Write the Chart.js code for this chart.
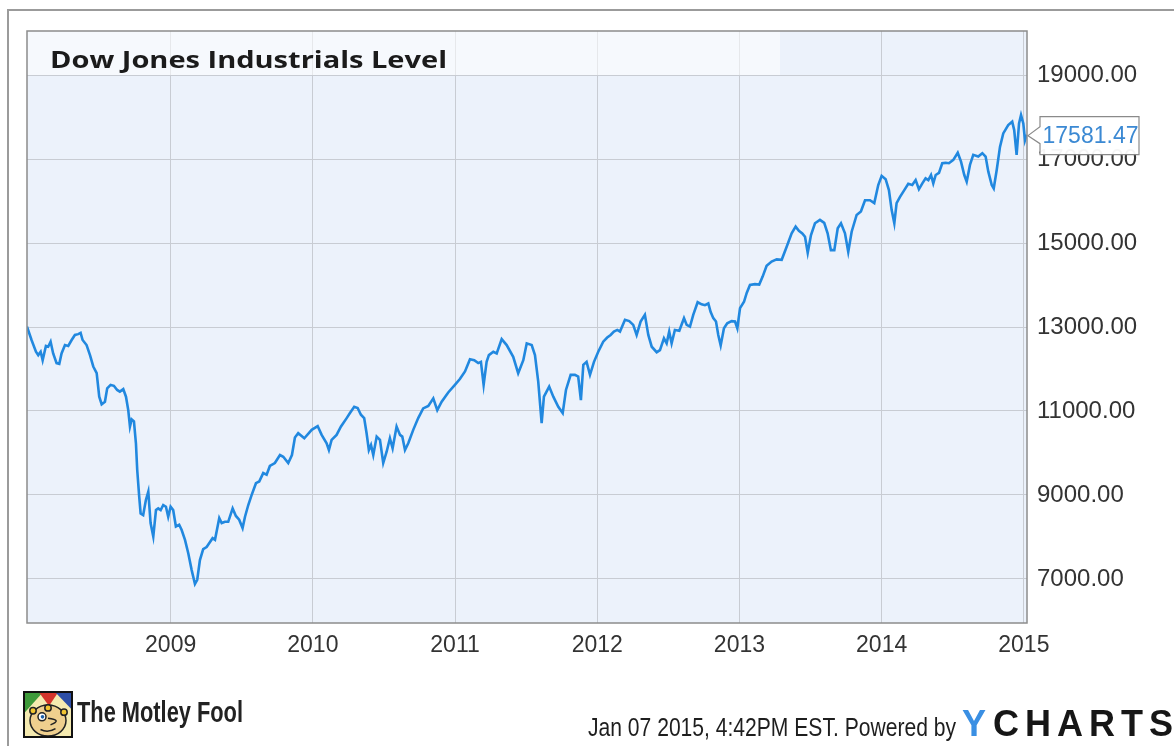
<!DOCTYPE html>
<html><head><meta charset="utf-8">
<script src="https://cdn.jsdelivr.net/npm/chart.js@4.4.1/dist/chart.umd.min.js"></script>
<style>html,body{margin:0;padding:0;background:#fff;}canvas{display:block;}</style>
</head><body>
<canvas id="c" width="1174" height="746"></canvas>
<script>
const chartTitle = "Dow Jones Industrials Level";
const yearTicks = [2009, 2010, 2011, 2012, 2013, 2014, 2015];
const valueTicks = [7000, 9000, 11000, 13000, 15000, 17000, 19000];
const lastValueLabel = "17581.47";
const footerStamp = "Jan 07 2015, 4:42PM EST. Powered by";
const brandName = "The Motley Fool";

const years = [
2007.99,2008.022,2008.053,2008.069,2008.086,2008.100,2008.123,2008.139,2008.156,2008.174,
2008.198,2008.217,2008.233,2008.257,2008.280,2008.304,2008.327,2008.350,2008.367,2008.381,
2008.409,2008.433,2008.456,2008.480,2008.498,2008.515,2008.538,2008.554,2008.578,2008.601,
2008.624,2008.643,2008.667,2008.686,2008.702,2008.714,2008.726,2008.742,2008.756,2008.765,
2008.779,2008.789,2008.807,2008.826,2008.843,2008.859,2008.878,2008.897,2008.913,2008.930,
2008.948,2008.967,2008.983,2009.000,2009.018,2009.037,2009.060,2009.077,2009.101,2009.124,
2009.148,2009.171,2009.187,2009.206,2009.229,2009.253,2009.271,2009.295,2009.312,2009.342,
2009.359,2009.382,2009.405,2009.436,2009.459,2009.482,2009.506,2009.523,2009.546,2009.570,
2009.600,2009.623,2009.651,2009.675,2009.698,2009.733,2009.769,2009.792,2009.827,2009.853,
2009.874,2009.897,2009.940,2009.992,2010.034,2010.062,2010.097,2010.113,2010.132,2010.167,
2010.198,2010.238,2010.261,2010.291,2010.315,2010.338,2010.361,2010.378,2010.394,2010.409,
2010.425,2010.449,2010.472,2010.495,2010.519,2010.542,2010.561,2010.589,2010.613,2010.629,
2010.648,2010.671,2010.706,2010.741,2010.776,2010.812,2010.847,2010.875,2010.906,2010.952,
2010.999,2011.034,2011.070,2011.105,2011.135,2011.163,2011.182,2011.201,2011.222,2011.238,
2011.269,2011.293,2011.328,2011.363,2011.409,2011.444,2011.480,2011.504,2011.539,2011.562,
2011.585,2011.609,2011.625,2011.662,2011.691,2011.726,2011.757,2011.780,2011.813,2011.843,
2011.866,2011.885,2011.902,2011.925,2011.949,2011.977,2012.007,2012.042,2012.070,2012.094,
2012.117,2012.141,2012.160,2012.195,2012.225,2012.253,2012.277,2012.305,2012.335,2012.359,
2012.383,2012.418,2012.441,2012.469,2012.488,2012.506,2012.523,2012.546,2012.577,2012.610,
2012.629,2012.652,2012.675,2012.706,2012.734,2012.757,2012.781,2012.797,2012.816,2012.835,
2012.851,2012.868,2012.891,2012.914,2012.945,2012.969,2012.985,2013.004,2013.032,2013.051,
2013.074,2013.109,2013.139,2013.163,2013.191,2013.226,2013.262,2013.297,2013.332,2013.367,
2013.395,2013.418,2013.442,2013.461,2013.480,2013.503,2013.531,2013.566,2013.596,2013.620,
2013.643,2013.667,2013.691,2013.714,2013.742,2013.765,2013.789,2013.824,2013.854,2013.883,
2013.918,2013.948,2013.976,2014.000,2014.028,2014.051,2014.070,2014.089,2014.105,2014.129,
2014.159,2014.187,2014.215,2014.239,2014.262,2014.286,2014.309,2014.328,2014.347,2014.363,
2014.380,2014.403,2014.426,2014.450,2014.473,2014.504,2014.535,2014.558,2014.581,2014.598,
2014.621,2014.644,2014.679,2014.708,2014.731,2014.750,2014.774,2014.788,2014.809,2014.832,
2014.855,2014.890,2014.918,2014.932,2014.949,2014.966,2014.980,2014.996,2015.008,2015.020
];
const values = [
13010,12690,12410,12330,12410,12210,12550,12530,12650,12370,
12140,12120,12370,12570,12550,12690,12810,12830,12860,12690,
12570,12330,12060,11900,11340,11160,11220,11540,11620,11600,
11500,11460,11520,11340,11020,10630,10800,10750,10230,9600,
8960,8560,8520,8880,9080,8330,8010,8640,8680,8640,
8760,8720,8480,8720,8640,8250,8290,8170,7930,7610,
7210,6880,6980,7450,7710,7760,7850,7970,7930,8450,
8330,8360,8360,8680,8500,8410,8210,8480,8760,9000,
9280,9320,9520,9480,9690,9760,9950,9910,9760,9950,
10370,10470,10350,10550,10640,10430,10230,10070,10310,10430,
10630,10830,10950,11100,11070,10910,10830,10470,10070,10190,
9950,10390,10310,9760,10030,10350,10110,10630,10430,10390,
10070,10230,10550,10830,11060,11120,11300,11020,11220,11440,
11620,11760,11940,12230,12210,12140,12170,11620,12170,12330,
12410,12370,12710,12570,12290,11900,12210,12610,12570,12330,
11700,10710,11340,11580,11340,11100,10950,11500,11860,11860,
11820,11260,12100,12170,11860,12170,12410,12650,12750,12810,
12890,12930,12890,13170,13140,13050,12810,13130,13290,12810,
12530,12400,12450,12730,12610,12890,12610,12930,12910,13210,
13050,13010,13290,13590,13540,13520,13560,13360,13210,13130,
12810,12560,12970,13090,13140,13130,12970,13450,13600,13810,
14000,14020,14010,14200,14460,14560,14610,14600,14910,15230,
15390,15290,15230,15150,14770,15190,15470,15550,15480,15230,
14830,14830,15350,15470,15230,14790,15270,15670,15750,16020,
16020,15950,16380,16600,16520,16260,15790,15470,15950,16100,
16260,16410,16380,16500,16280,16420,16540,16500,16620,16420,
16620,16670,16900,16910,16900,16980,17150,16940,16620,16460,
16860,17100,17060,17140,17060,16700,16380,16300,16740,17290,
17610,17810,17890,17690,17100,17850,18050,17850,17450,17581.47
];

const xMin = 2007.99, xMax = 2015.022;
const yMin = 5950, yMax = 20050;

function fitText(ctx, text, x, y, width, font, color) {
  ctx.save();
  ctx.font = font;
  ctx.fillStyle = color;
  ctx.textBaseline = 'alphabetic';
  ctx.textAlign = 'left';
  const w = ctx.measureText(text).width;
  ctx.translate(x, y);
  ctx.scale(width / w, 1);
  ctx.fillText(text, 0, 0);
  ctx.restore();
}
function spacedText(ctx, text, x, y, width, font, color) {
  ctx.save();
  ctx.font = font; ctx.fillStyle = color; ctx.textBaseline = 'alphabetic'; ctx.textAlign = 'left';
  const ws = [...text].map(c => ctx.measureText(c).width);
  const nat = ws.reduce((a, b) => a + b, 0);
  const gap = (width - nat) / (text.length - 1);
  let cx = x;
  [...text].forEach((c, i) => { ctx.fillText(c, cx, y); cx += ws[i] + gap; });
  ctx.restore();
}
function drawFoolLogo(ctx, x, y, w, h) {
  ctx.save();
  ctx.fillStyle = '#f5eab0'; ctx.fillRect(x, y, w, h);
  const tri = (pts, col) => { ctx.fillStyle = col; ctx.beginPath(); ctx.moveTo(pts[0], pts[1]); for (let i = 2; i < pts.length; i += 2) ctx.lineTo(pts[i], pts[i+1]); ctx.closePath(); ctx.fill(); };
  tri([x, y, x + w*0.42, y, x, y + h*0.5], '#3e9a3a');
  tri([x + w*0.3, y, x + w*0.72, y, x + w*0.52, y + h*0.32], '#d4342b');
  tri([x + w*0.62, y, x + w, y, x + w, y + h*0.42], '#2d4ea6');
  ctx.fillStyle = '#efcf8e'; ctx.strokeStyle = '#222'; ctx.lineWidth = 1.5;
  ctx.beginPath(); ctx.ellipse(x + w*0.5, y + h*0.63, w*0.36, h*0.33, 0, 0, Math.PI*2); ctx.fill(); ctx.stroke();
  ctx.fillStyle = '#f2c531';
  [[0.2,0.42],[0.5,0.36],[0.82,0.45]].forEach(p => { ctx.beginPath(); ctx.arc(x + w*p[0], y + h*p[1], 3.2, 0, Math.PI*2); ctx.fill(); ctx.stroke(); });
  ctx.fillStyle = '#fff';
  ctx.beginPath(); ctx.arc(x + w*0.38, y + h*0.55, 4, 0, Math.PI*2); ctx.fill(); ctx.stroke();
  ctx.fillStyle = '#1d5fa8'; ctx.beginPath(); ctx.arc(x + w*0.39, y + h*0.55, 1.8, 0, Math.PI*2); ctx.fill();
  ctx.beginPath(); ctx.moveTo(x + w*0.5, y + h*0.58); ctx.quadraticCurveTo(x + w*0.8, y + h*0.62, x + w*0.55, y + h*0.72); ctx.stroke();
  ctx.beginPath(); ctx.moveTo(x + w*0.35, y + h*0.82); ctx.quadraticCurveTo(x + w*0.5, y + h*0.9, x + w*0.65, y + h*0.8); ctx.stroke();
  ctx.strokeStyle = '#111'; ctx.lineWidth = 2; ctx.strokeRect(x + 1, y + 1, w - 2, h - 2);
  ctx.restore();
}

const decor = {
  id: 'decor',
  beforeDraw(chart) {
    const { ctx, chartArea: a } = chart;
    ctx.save();
    ctx.fillStyle = '#ffffff'; ctx.fillRect(0, 0, chart.width, chart.height);
    ctx.strokeStyle = '#9b9b9b'; ctx.lineWidth = 2;
    ctx.beginPath(); ctx.moveTo(8, chart.height); ctx.lineTo(8, 10); ctx.lineTo(chart.width, 10); ctx.stroke();
    ctx.fillStyle = '#ecf2fb';
    ctx.fillRect(a.left, a.top, a.right - a.left, a.bottom - a.top);
    ctx.restore();
  },
  beforeDatasetsDraw(chart) {
    const { ctx, chartArea: a } = chart;
    ctx.save();
    ctx.fillStyle = 'rgba(255,255,255,0.55)';
    ctx.fillRect(a.left, a.top, 780 - a.left, 75 - a.top);
    ctx.restore();
    fitText(ctx, chartTitle, 50, 68, 397, "bold 24px 'Open Sans'", '#1b1b1b');
  },
  afterDraw(chart) {
    const { ctx, chartArea: a } = chart;
    ctx.save();
    ctx.strokeStyle = '#8c8c8c'; ctx.lineWidth = 1.5;
    ctx.strokeRect(a.left, a.top, a.right - a.left, a.bottom - a.top);
    // last value callout
    const py = chart.scales.y.getPixelForValue(values[values.length - 1]);
    const tipX = a.right + 1, bx = a.right + 13, bw = 99, bh = 38, by = py - 18;
    ctx.beginPath();
    ctx.moveTo(bx, by); ctx.lineTo(bx + bw, by); ctx.lineTo(bx + bw, by + bh); ctx.lineTo(bx, by + bh);
    ctx.lineTo(bx, py + 9); ctx.lineTo(tipX, py + 1); ctx.lineTo(bx, py - 8); ctx.closePath();
    ctx.fillStyle = 'rgba(255,255,255,0.95)'; ctx.fill();
    ctx.strokeStyle = '#8a8a8a'; ctx.lineWidth = 1.2; ctx.stroke();
    ctx.fillStyle = '#3b89d3'; ctx.font = "23px 'Liberation Sans', Arial"; ctx.textAlign = 'center'; ctx.textBaseline = 'middle';
    ctx.fillText(lastValueLabel, bx + bw / 2 + 1, py + 2);
    ctx.restore();
    // footer
    drawFoolLogo(ctx, 23, 691, 50, 47);
    fitText(ctx, brandName, 77, 722, 166, "bold 29px 'Liberation Sans', Arial", '#222');
    fitText(ctx, footerStamp, 588, 736, 368, "25px 'Liberation Sans', Arial", '#1e1e1e');
    spacedText(ctx, 'Y', 962, 736, 30, "bold 36px 'Liberation Sans', Arial", '#3a8fe3');
    spacedText(ctx, 'CHARTS', 993, 736, 180, "bold 36px 'Liberation Sans', Arial", '#161616');
  }
};

new Chart(document.getElementById('c'), {
  type: 'line',
  data: {
    datasets: [{
      label: chartTitle,
      data: years.map((yr, i) => ({ x: yr, y: values[i] })),
      borderColor: '#2188df',
      borderWidth: 2.6,
      pointRadius: 0,
      tension: 0,
      fill: false
    }]
  },
  options: {
    responsive: false,
    animation: false,
    devicePixelRatio: 1,
    layout: { padding: { left: 27, top: 31, right: 0, bottom: 0 } },
    plugins: { legend: { display: false }, title: { display: false }, tooltip: { enabled: false } },
    scales: {
      x: {
        type: 'linear', position: 'bottom', min: xMin, max: xMax,
        afterBuildTicks: s => { s.ticks = yearTicks.map(v => ({ value: v })); },
        afterFit: s => { s.height = 123; },
        grid: { color: '#c8ccd3', lineWidth: 1, drawTicks: false },
        border: { display: false },
        ticks: { padding: 9, color: '#333', autoSkip: false, maxRotation: 0,
                 font: { family: "'Liberation Sans', Arial", size: 23 }, callback: v => String(v) }
      },
      y: {
        type: 'linear', position: 'right', min: yMin, max: yMax,
        afterBuildTicks: s => { s.ticks = valueTicks.map(v => ({ value: v })); },
        afterFit: s => { s.width = 147; },
        grid: { color: '#c8ccd3', lineWidth: 1, drawTicks: false },
        border: { display: false },
        ticks: { padding: 10, color: '#333',
                 font: { family: "'Liberation Sans', Arial", size: 24 }, callback: v => Number(v).toFixed(2) }
      }
    }
  },
  plugins: [decor]
});
</script>
</body></html>
